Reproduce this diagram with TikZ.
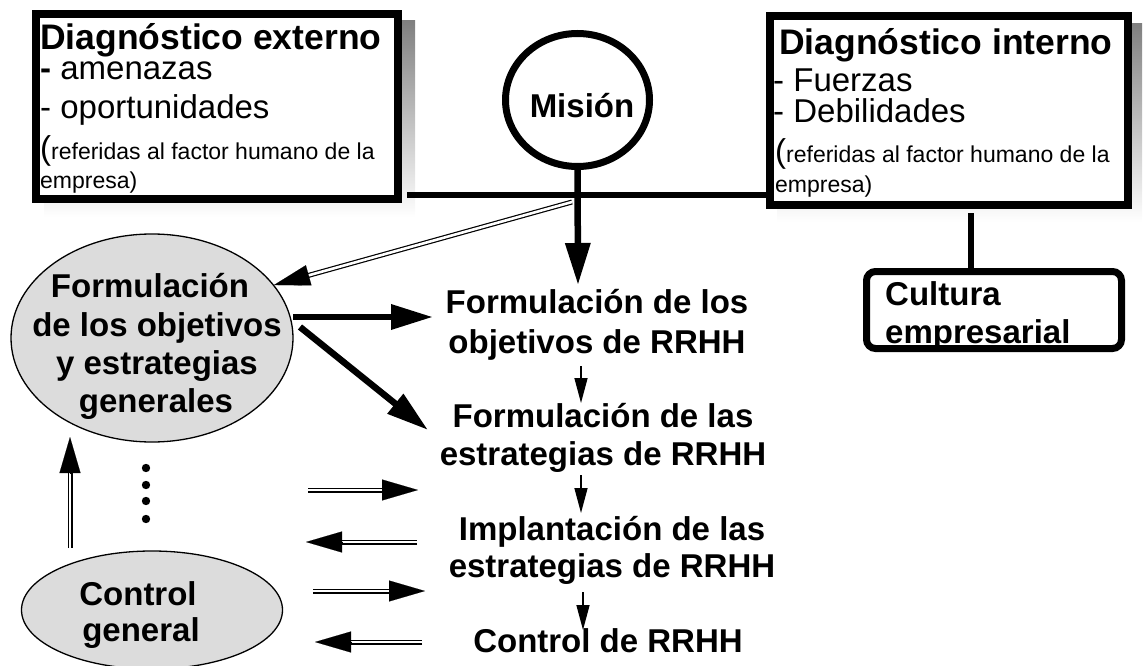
\documentclass[tikz,border=0pt]{standalone}
\usepackage{fontspec}
\setmainfont{Liberation Sans}
\usetikzlibrary{arrows.meta,shapes.geometric,calc}
\definecolor{shade}{HTML}{666666}
\definecolor{ellfill}{HTML}{DCDCDC}
\begin{document}
\begin{tikzpicture}[x=1pt,y=-1pt,
  big/.style={font=\fontsize{33}{38}\selectfont\bfseries, inner sep=0pt, anchor=base},
  titletxt/.style={font=\fontsize{35.5}{40}\selectfont\bfseries, inner sep=0pt, anchor=base west},
  reg/.style={font=\fontsize{33}{38}\selectfont, inner sep=0pt, anchor=base west},
  smalltxt/.style={font=\fontsize{23}{26}\selectfont, inner sep=0pt, anchor=base west},
  cultxt/.style={font=\fontsize{33}{38}\selectfont\bfseries, inner sep=0pt, anchor=base west},
  diagbox/.style={draw, line width=8pt, fill=white, inner sep=0pt},
  elln/.style={ellipse, draw, line width=1.3pt, fill=ellfill, inner sep=0pt},
  thickarrow/.style={line width=6.5pt, -{Triangle[length=42pt,width=24pt]}},
  thinarrow/.style={line width=1.5pt, -{Triangle[length=25pt,width=13pt]}},
  dblline/.style={double, double distance=2.6pt, line width=1.2pt},
  dblhead/.style={line width=0.1pt, -{Triangle[length=36pt,width=21pt]}},
  bar/.style={line width=6.5pt}
]
\useasboundingbox (0,0) rectangle (1146,666);

% external diagnosis box
\fill[shade] (44,21) rectangle (415,217);
\node[diagbox, minimum width=362pt, minimum height=185pt] (ext) at (217,106.5) {};
\node[titletxt] (ext1) at (40,50) {Diagnóstico externo};
\node[reg] (ext2) at (40,80) {\textbf{-} amenazas};
\node[reg] (ext3) at (40,119) {- oportunidades};
\node[smalltxt] (ext4) at (40,160) {{\fontsize{33}{38}\selectfont(}referidas al factor humano de la};
\node[smalltxt] (ext5) at (40,188) {empresa)};

% internal diagnosis box
\fill[shade] (777,24) rectangle (1142,222);
\node[diagbox, minimum width=358pt, minimum height=189pt] (int) at (949,110.5) {};
\node[titletxt] (int1) at (779,55) {Diagnóstico interno};
\node[reg] (int2) at (773,92) {- Fuerzas};
\node[reg] (int3) at (773,123) {- Debilidades};
\node[smalltxt] (int4) at (775,163) {{\fontsize{33}{38}\selectfont(}referidas al factor humano de la};
\node[smalltxt] (int5) at (775,193) {empresa)};

% mission
\node[ellipse, draw, line width=7pt, fill=white, minimum width=144pt, minimum height=133pt, inner sep=0pt] (mis) at (577.5,100) {};
\node[big] (mist) at (582,118) {Misión};

% horizontal connecting bar
\coordinate (hl1) at (407,195);
\coordinate (hl2) at (773,195);
\draw[bar] (hl1) -- (hl2);

% culture box
\node[draw, line width=7pt, rounded corners=9pt, minimum width=255pt, minimum height=77pt, inner sep=0pt, fill=white] (cult) at (994,310) {};
\node[cultxt] (cult1) at (885,305) {Cultura};
\node[cultxt] (cult2) at (885,343) {empresarial};
\coordinate (iv1) at (971,213);
\draw[bar] (iv1) -- (cult.north -| iv1);

% general objectives ellipse
\node[elln, minimum width=282pt, minimum height=208pt] (fo) at (152,338) {};
\node[big] (fo1) at (150,297) {Formulación};
\node[big] (fo2) at (157,336) {de los objetivos};
\node[big] (fo3) at (157,374) {y estrategias};
\node[big] (fo4) at (156,412) {generales};

% control general ellipse
\node[elln, minimum width=261pt, minimum height=118pt] (cg) at (152,610) {};
\node[big] (cg1) at (138,605) {Control};
\node[big] (cg2) at (141,641) {general};

% HR column
\node[big] (h1) at (597,313) {Formulación de los};
\node[big] (h2) at (597,353) {objetivos de RRHH};
\node[big] (h3) at (603,427) {Formulación de las};
\node[big] (h4) at (603,465) {estrategias de RRHH};
\node[big] (h5) at (612,540) {Implantación de las};
\node[big] (h6) at (612,577) {estrategias de RRHH};
\node[big] (h7) at (608,652) {Control de RRHH};

% mission arrow down
\coordinate (mt) at (578,285);
\draw[thickarrow] (mis.south) -- (mt);

% double arrow mission -> general objectives
\coordinate (da1) at (572,202);
\coordinate (da2) at (274,285);
\draw[dblline] (da1) -- ($(da2)!33pt!(da1)$);
\draw[dblhead] ($(da2)!36pt!(da1)$) -- (da2);

% thick arrows from ellipse
\coordinate (ta1) at (293,317);
\coordinate (tb1) at (433,317);
\coordinate (ta2) at (300,327);
\coordinate (tb2) at (428,430);
\draw[thickarrow] (ta1) -- (tb1);
\draw[thickarrow] (ta2) -- (tb2);

% thin arrows in HR column
\coordinate (s1a) at (581,366); \coordinate (s1b) at (581,403);
\coordinate (s2a) at (581,475); \coordinate (s2b) at (581,513);
\coordinate (s3a) at (583,592); \coordinate (s3b) at (583,630);
\draw[thinarrow] (s1a) -- (s1b);
\draw[thinarrow] (s2a) -- (s2b);
\draw[thinarrow] (s3a) -- (s3b);

% double arrows lower part
\coordinate (r1a) at (308,490); \coordinate (r1b) at (418,490);
\coordinate (l1a) at (417,542); \coordinate (l1b) at (306,542);
\coordinate (r2a) at (313,591); \coordinate (r2b) at (425,591);
\coordinate (l2a) at (422,642); \coordinate (l2b) at (315,642);
\coordinate (upa) at (70,548);  \coordinate (upb) at (70,437);
\foreach \s/\e in {r1a/r1b, l1a/l1b, r2a/r2b, l2a/l2b, upa/upb}{
  \draw[dblline] (\s) -- ($(\e)!33pt!(\s)$);
  \draw[dblhead] ($(\e)!36pt!(\s)$) -- (\e);
}

% dots
\foreach \yy in {468,485,501,519}{
  \fill (146,\yy) circle (4.2pt);
}
\end{tikzpicture}
\end{document}
